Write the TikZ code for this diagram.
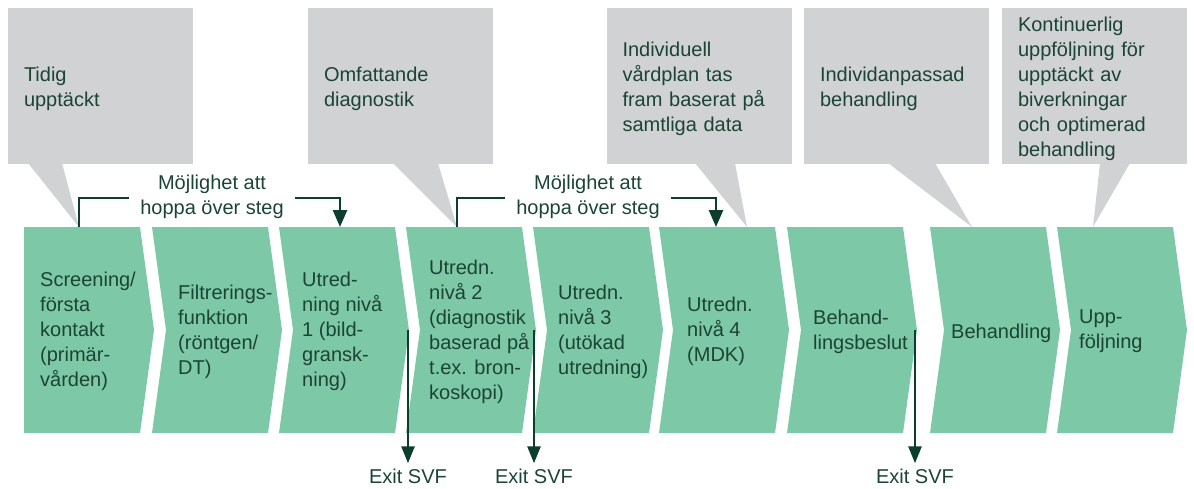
\documentclass[tikz,border=0pt]{standalone}
\usepackage{fontspec}
\setmainfont{Liberation Sans}
\usetikzlibrary{arrows.meta}
\definecolor{stepgreen}{HTML}{7DC9A7}
\definecolor{notegray}{HTML}{D1D2D4}
\definecolor{ink}{HTML}{1B4434}
\definecolor{arrowink}{HTML}{0C3D2D}
\begin{document}
\begin{tikzpicture}[x=1pt,y=-1pt,
  txt/.style={font=\fontsize{20}{25}\selectfont, text=ink, inner sep=0pt,
    execute at begin node={\noindent\strut}, execute at end node=\strut},
  steptext/.style={txt, align=left, anchor=west},
  note/.style={font=\fontsize{20}{25}\selectfont, text=ink, fill=notegray,
    minimum width=185pt, minimum height=156pt, text width=153pt,
    inner xsep=16pt, inner ysep=0pt, align=left,
    execute at begin node={\noindent\rule{0pt}{23.5pt}}, execute at end node=\strut},
  pointer/.style={fill=notegray},
  chev/.style={fill=stepgreen},
  skiplabel/.style={txt, align=center, minimum width=165pt},
  exitlabel/.style={txt, inner ysep=2pt},
  skipline/.style={draw=arrowink, line width=2.6pt},
  skiparrow/.style={skipline, -{Triangle[length=17pt,width=14pt]}},
  exitarrow/.style={draw=arrowink, line width=2.6pt, -{Triangle[length=17pt,width=13pt]}}
]
\useasboundingbox (0,0) rectangle (1194,488);

% anchor points on the top edge of the steps
\coordinate (top1) at (79,227);
\coordinate (top3) at (340,227);
\coordinate (top4) at (457,227);
\coordinate (top6a) at (716,227);
\coordinate (top6b) at (747,227);
\coordinate (top8) at (972,227);
\coordinate (top9) at (1093,227);

% speech boxes above the process
\node[note] (n1) at (100.5,86) {Tidig\\upptäckt};
\node[note] (n2) at (400.5,86) {Omfattande\\diagnostik};
\node[note] (n3) at (699,86) {Individuell\\vårdplan tas\\fram baserat på\\samtliga data};
\node[note] (n4) at (896.5,86) {Individanpassad\\behandling};
\node[note] (n5) at (1094.5,86) {Kontinuerlig\\uppföljning för\\upptäckt av\\biverkningar\\och optimerad\\behandling};
\fill[pointer] (28,163) -- (62,163) -- (top1) -- cycle;
\fill[pointer] (393,163) -- (438,163) -- (top4) -- cycle;
\fill[pointer] (695,163) -- (735,163) -- (top6b) -- cycle;
\fill[pointer] (888,163) -- (935,163) -- (top8) -- cycle;
\fill[pointer] (1100,163) -- (1130,163) -- (top9) -- cycle;

% process steps
\fill[chev] (24,227) -- (140,227) -- (154,330) -- (140,433) -- (24,433) -- cycle;
\foreach \x in {152,279,406,533,659,787,930,1057}
  \fill[chev] (\x,227) -- ++(116,0) -- ++(14,103) -- ++(-14,103) -- ++(-116,0) -- ++(14,-103) -- cycle;
\coordinate (tip3) at (408,330);
\coordinate (tip4) at (534,330);
\coordinate (tip7) at (915,330);

\node[steptext] (s1) at (40,333) {Screening/\\första\\kontakt\\(primär-\\vården)};
\node[steptext] (s2) at (178,333) {Filtrerings-\\funktion\\(röntgen/\\DT)};
\node[steptext] (s3) at (302,333) {Utred-\\ning nivå\\1 (bild-\\gransk-\\ning)};
\node[steptext] (s4) at (429,333) {Utredn.\\nivå 2\\(diagnostik\\baserad på\\t.ex. bron-\\koskopi)};
\node[steptext] (s5) at (558,333) {Utredn.\\nivå 3\\(utökad\\utredning)};
\node[steptext] (s6) at (687,333) {Utredn.\\nivå 4\\(MDK)};
\node[steptext] (s7) at (813,333) {Behand-\\lingsbeslut};
\node[steptext] (s8) at (951,333) {Behandling};
\node[steptext] (s9) at (1079,333) {Upp-\\följning};

% skip connectors
\node[skiplabel] (k1) at (212,198) {Möjlighet att\\hoppa över steg};
\node[skiplabel] (k2) at (588,198) {Möjlighet att\\hoppa över steg};
\draw[skipline] (top1) |- (k1.west);
\draw[skiparrow] (k1.east) -| (top3);
\draw[skipline] (top4) |- (k2.west);
\draw[skiparrow] (k2.east) -| (top6a);

% exits from the pathway
\node[exitlabel] (x1) at (408,478) {Exit SVF};
\node[exitlabel] (x2) at (534,478) {Exit SVF};
\node[exitlabel] (x3) at (915,478) {Exit SVF};
\draw[exitarrow] (tip3) -- (x1.north);
\draw[exitarrow] (tip4) -- (x2.north);
\draw[exitarrow] (tip7) -- (x3.north);
\end{tikzpicture}
\end{document}
